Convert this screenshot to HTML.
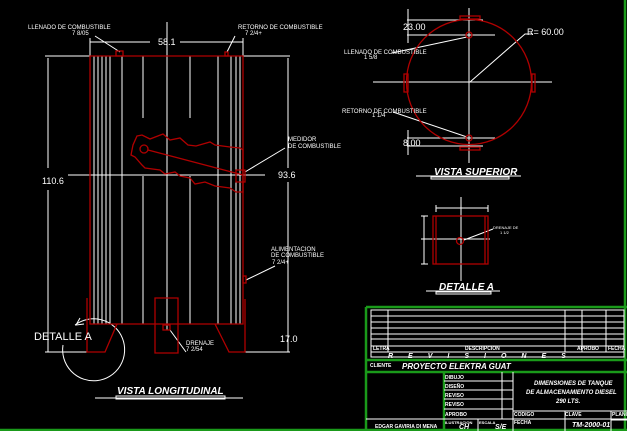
<!DOCTYPE html><html><head><style>body{margin:0;background:#000}svg{display:block}text{font-family:"Liberation Sans",sans-serif;fill:#fff}</style></head><body>
<svg width="627" height="431" viewBox="0 0 627 431" xmlns="http://www.w3.org/2000/svg">
<rect width="627" height="431" fill="#000"/>
<g stroke="#fff" stroke-width="1" fill="none">
<path d="M94 56V324M98 56V324M102 56V324M106 56V324M110 56V324M122 56V324M218 56V324M231 56V324M236 56V324M240 56V324M143 56V118M190 56V118M143 176V324M190 176V324M167 22V330"/>
<path d="M90 42H150M180 42H243M90 38V56M243 38V56M45 56H90M243 56H290M48 58V168M48 190V352M288 58V168M288 182V352M68 175H265M45 352H87M245 352H290M288 333V352"/>
<path d="M95 36L120 52M235 36L227 52M285 148L245 172M275 266L246 280M170 330L186 352M470 82L525 34H533"/>
<path d="M75 325 A31 31 0 1 1 63 345"/><path d="M80 318L76 325L84 324"/>
<path d="M95 398H243M116 396H225V399H116Z"/>
<path d="M469 8V163M373 82H552M407 20H483M407 35H495M408 9V43M407 138H495M407 146H483M408 130V155M416 176H521M431 177H509V179H431Z"/>
<path d="M392 53L467 37M393 112L467 137"/>
<path d="M461 197V281M422 239H490M436 208H488M436 205V212M488 205V212M424 216V264M421 216H428M421 239H428M421 264H428M464 240L493 229M426 291H500M436 292H491V294H436Z"/>
</g>
<g stroke="#b00000" stroke-width="1.3" fill="none">
<path d="M90 56H243V324H90Z"/>
<path d="M87 298V352H105L117 324M215 324L229 352H245V299M155 298H178V353H155Z"/>
<rect x="116" y="51" width="7" height="5"/><rect x="225" y="52" width="3" height="4"/><rect x="243" y="276" width="3" height="7"/>
<rect x="163" y="325" width="7" height="5"/>
<path d="M137 136L142 135L150 139L163 134L170 140L180 138L188 145L196 146L210 142L215 145L230 147L240 148L243 150V192L236 192L230 188L215 186L205 182L195 184L190 178L180 176L175 172L165 174L160 170L145 168L142 165L135 157L131 155L133 145Z"/>
<circle cx="144" cy="149" r="4"/><path d="M148 150L243 175M236 170H245V182H236Z"/>
<circle cx="469" cy="82" r="62.5"/>
<rect x="460" y="16" width="20" height="3"/><rect x="460" y="147" width="20" height="3"/><rect x="404" y="74" width="4" height="18"/><rect x="532" y="74" width="3" height="18"/>
<circle cx="469" cy="35" r="3"/><circle cx="469" cy="138" r="3"/>
<rect x="433" y="216" width="55" height="48"/><path d="M436 216V264M485 216V264"/><circle cx="460" cy="241" r="3.5"/>
</g>
<g font-size="6">
<text x="28" y="29">LLENADO DE COMBUSTIBLE</text><text x="72" y="35">7 8/05</text>
<text x="238" y="29">RETORNO DE COMBUSTIBLE</text><text x="245" y="35">7 2/4+</text>
<text x="288" y="141">MEDIDOR</text><text x="288" y="148">DE COMBUSTIBLE</text>
<text x="271" y="251">ALIMENTACION</text><text x="271" y="257">DE COMBUSTIBLE</text><text x="272" y="264">7 2/4+</text>
<text x="186" y="345">DRENAJE</text><text x="186" y="351">7 2/54</text>
<text x="344" y="54">LLENADO DE COMBUSTIBLE</text><text x="364" y="59">1 5/8</text>
<text x="342" y="113">RETORNO DE COMBUSTIBLE</text><text x="372" y="117">1 1/4</text>
<text x="493" y="229" font-size="4">DRENAJE DE</text><text x="500" y="234" font-size="4">1 1/2</text>
</g>
<g font-size="9"><text x="158" y="45">58.1</text><text x="42" y="184">110.6</text><text x="278" y="178">93.6</text><text x="280" y="342">17.0</text>
<text x="403" y="30">23.00</text><text x="403" y="146">8.00</text><text x="527" y="35">R= 60.00</text></g>
<text x="34" y="340" font-size="11">DETALLE A</text>
<g font-size="10" font-weight="bold" font-style="italic"><text x="117" y="394">VISTA LONGITUDINAL</text><text x="434" y="175">VISTA SUPERIOR</text><text x="439" y="290">DETALLE A</text></g>
<g stroke="#1a9a1a" stroke-width="2.5" fill="none"><path d="M366 307H627M366 307V431M625 0V431M0 430H627M366 360H627M366 372H627M444 372V431"/></g>
<g stroke="#fff" stroke-width="1" fill="none">
<rect x="371" y="310" width="253" height="47"/>
<path d="M371 316H624M371 322H624M371 328H624M371 334H624M371 339H624M371 346H624M371 352H624M388 310V352M565 310V352M582 310V352M606 310V352"/>
<path d="M366 419H444M444 381H513M444 390H513M444 399H513M444 409H513M502 372V419M513 372V431M513 411H627M444 419H627M478 419V431M565 411V431M611 411V431M611 420H627"/>
</g>
<g font-size="5" font-weight="bold"><text x="373" y="350">LETRA</text><text x="465" y="350">DESCRIPCION</text><text x="577" y="350">APROBO</text><text x="608" y="350">FECHA</text>
<text x="370" y="367">CLIENTE</text><text x="445" y="379">DIBUJO</text><text x="445" y="388">DISEÑO</text><text x="445" y="397">REVISO</text><text x="445" y="406">REVISO</text><text x="445" y="416">APROBO</text>
<text x="514" y="416">CODIGO</text><text x="565" y="416">CLAVE</text><text x="612" y="416">PLANO</text><text x="445" y="424" font-size="4">ILUSTRACION</text><text x="479" y="424" font-size="4">ESCALA</text><text x="514" y="424">FECHA</text>
<text x="375" y="428">EDGAR GAVIRIA DI MENA</text></g>
<g font-size="7" font-style="italic" font-weight="bold"><text x="388" y="358" letter-spacing="15">REVISIONES</text>
<text x="402" y="369" font-size="8">PROYECTO ELEKTRA GUAT</text>
<g font-size="6"><text x="534" y="385">DIMENSIONES DE TANQUE</text><text x="526" y="394">DE ALMACENAMIENTO DIESEL</text><text x="556" y="403">290 LTS.</text></g>
<text x="459" y="429">CH</text><text x="495" y="429">S/E</text><text x="572" y="427">TM-2000-01</text></g>
</svg></body></html>
